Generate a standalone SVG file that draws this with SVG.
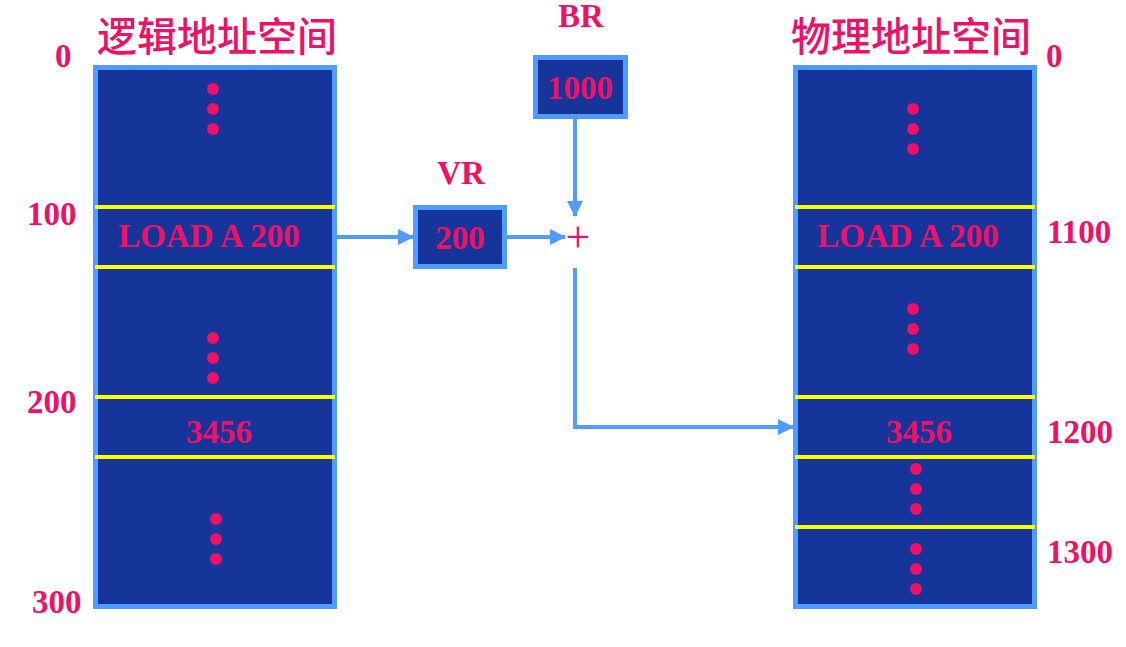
<svg xmlns="http://www.w3.org/2000/svg" width="1126" height="647" viewBox="0 0 1126 647">
<defs>
<style>
.box{fill:#15359a;stroke:#4f9bff;stroke-width:5}
.sep{stroke:#ffff00;stroke-width:4}
.dot{fill:#ee1166}
.t{font-family:"Liberation Serif","Times New Roman",serif;font-weight:bold;font-size:33px;fill:#ee1166}
.cn{font-family:"Noto Sans CJK SC","Noto Sans CJK JP",sans-serif;font-size:40px;font-weight:500;fill:#ee1166}
.mid{text-anchor:middle}
.con{fill:none;stroke:#4f9bff;stroke-width:4}
</style>
<marker id="ah" markerWidth="16" markerHeight="16" refX="15" refY="8" orient="auto" markerUnits="userSpaceOnUse">
<path d="M0,0 L16,8 L0,16 Z" fill="#4f9bff"/>
</marker>
</defs>
<g id="logical">
<rect class="box" x="95.5" y="67.5" width="239" height="539"/>
<line class="sep" x1="95" y1="207" x2="335" y2="207"/>
<line class="sep" x1="95" y1="267" x2="335" y2="267"/>
<line class="sep" x1="95" y1="397" x2="335" y2="397"/>
<line class="sep" x1="95" y1="457" x2="335" y2="457"/>
<circle class="dot" cx="213" cy="89" r="6"/><circle class="dot" cx="213" cy="109" r="6"/><circle class="dot" cx="213" cy="129" r="6"/>
<circle class="dot" cx="213" cy="338" r="6"/><circle class="dot" cx="213" cy="358" r="6"/><circle class="dot" cx="213" cy="378" r="6"/>
<circle class="dot" cx="216" cy="519" r="6"/><circle class="dot" cx="216" cy="539" r="6"/><circle class="dot" cx="216" cy="559" r="6"/>
<text class="t mid" x="209" y="247">LOAD A 200</text>
<text class="t mid" x="219" y="443">3456</text>
<text class="cn" x="97" y="51">逻辑地址空间</text>
<text class="t" x="55" y="67">0</text>
<text class="t" x="27" y="225">100</text>
<text class="t" x="27" y="413">200</text>
<text class="t" x="32" y="613">300</text>
</g>
<g id="vr">
<rect class="box" x="415.5" y="207.5" width="89" height="59"/>
<text class="t mid" x="460" y="249">200</text>
<text class="t mid" x="461" y="184">VR</text>
</g>
<g id="br">
<rect class="box" x="535.5" y="57.5" width="90" height="59"/>
<text class="t mid" x="580" y="99">1000</text>
<text class="t mid" x="581" y="27">BR</text>
</g>
<g id="plus">
<text x="578" y="252" text-anchor="middle" font-family="Liberation Serif,serif" font-size="44" fill="#ee1166">+</text>
</g>
<g id="physical">
<rect class="box" x="795.5" y="67.5" width="239" height="539"/>
<line class="sep" x1="795" y1="207" x2="1035" y2="207"/>
<line class="sep" x1="795" y1="267" x2="1035" y2="267"/>
<line class="sep" x1="795" y1="397" x2="1035" y2="397"/>
<line class="sep" x1="795" y1="457" x2="1035" y2="457"/>
<line class="sep" x1="795" y1="527" x2="1035" y2="527"/>
<circle class="dot" cx="913" cy="109" r="6"/><circle class="dot" cx="913" cy="129" r="6"/><circle class="dot" cx="913" cy="149" r="6"/>
<circle class="dot" cx="913" cy="309" r="6"/><circle class="dot" cx="913" cy="329" r="6"/><circle class="dot" cx="913" cy="349" r="6"/>
<circle class="dot" cx="916" cy="469" r="6"/><circle class="dot" cx="916" cy="489" r="6"/><circle class="dot" cx="916" cy="509" r="6"/>
<circle class="dot" cx="916" cy="549" r="6"/><circle class="dot" cx="916" cy="569" r="6"/><circle class="dot" cx="916" cy="589" r="6"/>
<text class="t mid" x="908" y="247">LOAD A 200</text>
<text class="t mid" x="919" y="443">3456</text>
<text class="cn" x="791" y="51">物理地址空间</text>
<text class="t" x="1046" y="67">0</text>
<text class="t" x="1047" y="243">1100</text>
<text class="t" x="1047" y="443">1200</text>
<text class="t" x="1047" y="563">1300</text>
</g>
<g id="connectors">
<line class="con" x1="337" y1="237" x2="413" y2="237" marker-end="url(#ah)"/>
<line class="con" x1="507" y1="237" x2="565" y2="237" marker-end="url(#ah)"/>
<line class="con" x1="575" y1="119" x2="575" y2="216" marker-end="url(#ah)"/>
<polyline class="con" points="575,268 575,427 793,427" marker-end="url(#ah)"/>
</g>
</svg>
